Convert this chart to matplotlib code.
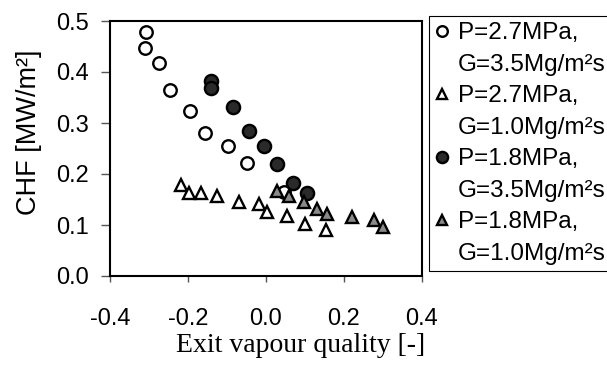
import matplotlib
matplotlib.use("Agg")
import matplotlib.pyplot as plt
from matplotlib.lines import Line2D

# data
x_o = [-0.308, -0.310, -0.274, -0.245, -0.196, -0.156, -0.097, -0.049, 0.046]
y_o = [0.478, 0.448, 0.417, 0.365, 0.324, 0.280, 0.255, 0.222, 0.164]

x_t = [-0.219, -0.198, -0.166, -0.125, -0.068, -0.017, 0.003, 0.055, 0.101, 0.153]
y_t = [0.178, 0.162, 0.162, 0.157, 0.146, 0.141, 0.126, 0.118, 0.102, 0.090]

x_f = [-0.142, -0.142, -0.084, -0.044, -0.004, 0.029, 0.070, 0.106]
y_f = [0.382, 0.369, 0.332, 0.284, 0.254, 0.220, 0.183, 0.162]

x_g = [0.029, 0.060, 0.097, 0.132, 0.156, 0.220, 0.277, 0.299]
y_g = [0.167, 0.156, 0.146, 0.131, 0.121, 0.115, 0.110, 0.097]

label_p = ["P=2.7MPa,", "P=2.7MPa,", "P=1.8MPa,", "P=1.8MPa,"]
label_g = ["G=3.5Mg/m²s", "G=1.0Mg/m²s", "G=3.5Mg/m²s", "G=1.0Mg/m²s"]
xticks = [-0.4, -0.2, 0.0, 0.2, 0.4]
yticks = [0.0, 0.1, 0.2, 0.3, 0.4, 0.5]

plt.rcParams['font.family'] = ['Liberation Sans', 'DejaVu Sans']

fig = plt.figure(figsize=(6.07, 3.72), dpi=100)
ax = fig.add_axes([110/607, 1-276/372, (422-110)/607, (276-21)/372])

ms = 9
lw = 1.7
h1, = ax.plot(x_o, y_o, 'o', ms=ms, mfc='white', mec='black', mew=lw, ls='none')
h2, = ax.plot(x_t, y_t, '^', ms=ms, mfc='white', mec='black', mew=lw, ls='none')
h3, = ax.plot(x_f, y_f, 'o', ms=ms + 0.5, mfc='#2a2a2a', mec='black', mew=lw, ls='none')
h4, = ax.plot(x_g, y_g, '^', ms=ms, mfc='#8a8a8a', mec='black', mew=lw, ls='none')

ax.set_xlim(-0.4, 0.4)
ax.set_ylim(0.0, 0.5)
ax.set_xticks(xticks)
ax.set_yticks(yticks)
ax.set_xticklabels([f"{v:.1f}" for v in xticks])
ax.set_yticklabels([f"{v:.1f}" for v in yticks])
ax.tick_params(axis='both', direction='out', width=1, labelsize=17, color='#555555')
ax.tick_params(axis='y', length=6.5, pad=8.5)
ax.tick_params(axis='x', length=4.5, pad=18.5)
for s in ax.spines.values():
    s.set_linewidth(1.5)

ax.set_ylabel("CHF [MW/m²]", fontsize=19.5)
ax.yaxis.set_label_coords(-0.218, 0.565)
ax.set_xlabel("Exit vapour quality [-]", fontsize=20, family=['Liberation Serif'])
ax.xaxis.set_label_coords(0.612, -0.222)

empty = Line2D([], [], ls='none', marker=None)
handles = []
labels = []
for h, p, g in zip([h1, h2, h3, h4], label_p, label_g):
    handles += [h, empty]
    labels += [p, g]

leg = fig.legend(handles=handles, labels=labels, loc='upper left',
                 bbox_to_anchor=(429/607, 1-16/372), fontsize=17.5,
                 markerscale=0.85, handlelength=0.6, handletextpad=0.35,
                 borderpad=0.25, labelspacing=0.39, fancybox=False,
                 framealpha=1, edgecolor='black', borderaxespad=0)
leg.get_frame().set_linewidth(0.8)

fig.savefig("out.png", dpi=100)
